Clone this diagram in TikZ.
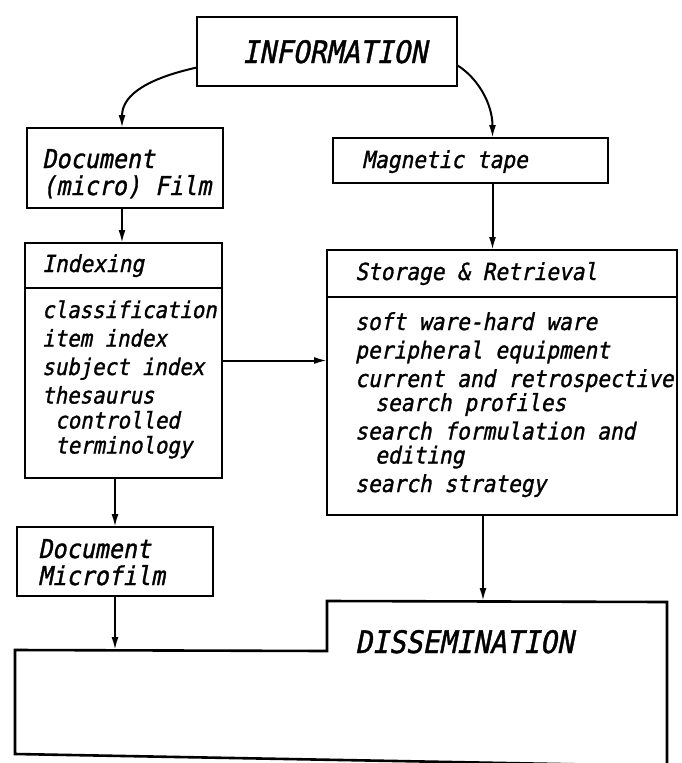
\documentclass[tikz,border=0pt]{standalone}
\usepackage{fontspec}
\newfontfamily\letterfont{DejaVu Sans Mono}[FakeSlant=0.2,FakeBold=1.2,FakeStretch=0.9]
\usetikzlibrary{arrows.meta}
\begin{document}
\begin{tikzpicture}[x=1pt,y=-1pt,
  box/.style={draw, line width=2.6pt, rectangle, inner sep=0pt, outer sep=0pt, anchor=north west},
  rule/.style={line width=2.6pt},
  txt/.style={anchor=base west, inner sep=0pt, font=\letterfont\fontsize{23.5}{27}\selectfont},
  txtsm/.style={txt, font=\letterfont\fontsize{23}{27}\selectfont},
  txtmd/.style={txt, font=\letterfont\fontsize{26}{30}\selectfont},
  txtbig/.style={txt, font=\letterfont\fontsize{31}{36}\selectfont},
  link/.style={line width=2pt, -{Latex[length=13pt,width=7pt]}},
]
\useasboundingbox (0,0) rectangle (681,763);

% boxes
\node[box, minimum width=260pt, minimum height=69pt]  (info)  at (197,17)  {};
\node[box, minimum width=196pt, minimum height=80pt]  (film)  at (27,128)  {};
\node[box, minimum width=275pt, minimum height=45pt]  (tape)  at (333,138) {};
\node[box, minimum width=197pt, minimum height=235pt] (index) at (25,243)  {};
\node[box, minimum width=350pt, minimum height=265pt] (store) at (327,250) {};
\node[box, minimum width=196pt, minimum height=69pt]  (micro) at (17,527)  {};

% header dividers
\draw[rule] ([yshift=-45pt]index.north west) -- ([yshift=-45pt]index.north east);
\draw[rule] ([yshift=-47pt]store.north west) -- ([yshift=-47pt]store.north east);

% stepped dissemination outline
\draw[rule, line join=miter] (15,650) -- (327,651) -- (327,601) -- (667,602)
  -- (667,766) -- (15,754) -- cycle;
\coordinate (dl) at (115,650);
\coordinate (dr) at (483,601);

% labels
\node[txtbig] (infot) at (242,63) {INFORMATION};
\node[txtmd] (film1) at (42,168) {Document};
\node[txtmd] (film2) at (42,195) {(micro) Film};
\node[txt] (tapet) at (362,168) {Magnetic tape};

\node[txt] (indext) at (42,272) {Indexing};
\node[txtsm] (ix1) at (42,318)   {classification};
\node[txtsm] (ix2) at (42,346.5) {item index};
\node[txtsm] (ix3) at (42,375)   {subject index};
\node[txtsm] (ix4) at (42,403.5) {thesaurus};
\node[txtsm] (ix5) at (55,428.5) {controlled};
\node[txtsm] (ix6) at (55,453.5) {terminology};

\node[txt] (storet) at (355,280) {Storage \& Retrieval};
\node[txt] (sr1) at (355,330)   {soft ware-hard ware};
\node[txt] (sr2) at (355,358.5) {peripheral equipment};
\node[txt] (sr3) at (355,387)   {current and retrospective};
\node[txt] (sr4) at (375,411)   {search profiles};
\node[txt] (sr5) at (355,439.5) {search formulation and};
\node[txt] (sr6) at (375,463.5) {editing};
\node[txt] (sr7) at (355,492)   {search strategy};

\node[txtmd] (micro1) at (38,558) {Document};
\node[txtmd] (micro2) at (38,585) {Microfilm};

\node[txtbig] (diss) at (355,653) {DISSEMINATION};

% connectors
\draw[link] (info.187) .. controls +(-45,10) and +(0,-35) .. ([xshift=-3pt]film.north);
\draw[link] (info.354) .. controls +(20,12) and +(0,-35) .. ([xshift=22pt]tape.north);
\draw[link] ([xshift=-3pt]film.south) -- ([xshift=-3pt]film.south |- index.north);
\draw[link] ([xshift=22pt]tape.south) -- ([xshift=22pt]tape.south |- store.north);
\draw[link] (index.east) -- (index.east -| store.west);
\draw[link] (micro.north |- index.south) -- (micro.north);
\draw[link] (micro.south) -- (dl);
\draw[link] (store.south -| dr) -- (dr);
\end{tikzpicture}
\end{document}
